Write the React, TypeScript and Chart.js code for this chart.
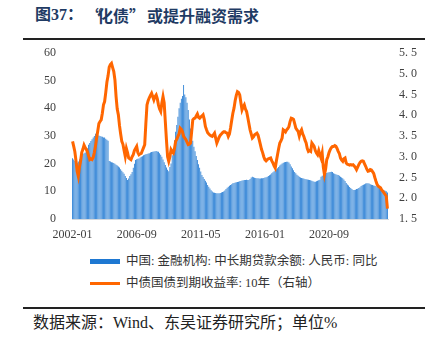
import React, { useEffect, useRef } from "react";
import { Chart, registerables } from "chart.js";

Chart.register(...registerables);

// Monthly categories 2002-01 .. 2024-12
const startYear = 2002;
const yearCount = 23;
const categories: string[] = [];
for (let y = 0; y < yearCount; y++) {
  for (let m = 1; m <= 12; m++) {
    categories.push(`${startYear + y}-${m < 10 ? "0" + m : m}`);
  }
}

const xTickLabels = ["2002-01", "2006-09", "2011-05", "2016-01", "2020-09"];
const leftTicks = [0, 10, 20, 30, 40, 50, 60];
const rightTicks = [1.5, 2.0, 2.5, 3.0, 3.5, 4.0, 4.5, 5.0, 5.5];

// 中国:金融机构:中长期贷款余额:人民币:同比 (%), left axis
const loanGrowth: number[] = [
  // 2002
  22.0, 21.5, 21.0, 20.5, 20.2, 20.8, 21.5, 22.3, 23.0, 23.5, 23.8, 24.0,
  // 2003
  24.5, 25.5, 26.8, 27.5, 28.2, 28.8, 29.5, 30.0, 30.8, 31.0, 30.5, 30.2,
  // 2004
  30.0, 29.8, 29.7, 29.5, 29.5, 29.0, 28.6, 28.3, 21.0, 20.8, 20.5, 20.4,
  // 2005
  20.2, 20.0, 19.6, 19.3, 19.0, 18.6, 18.0, 17.4, 16.9, 16.4, 15.5, 14.8,
  // 2006
  14.1, 14.6, 15.5, 16.2, 17.0, 18.5, 20.0, 21.3, 21.6, 21.8, 21.9, 22.2,
  // 2007
  22.5, 22.7, 23.0, 23.2, 23.4, 23.5, 23.7, 23.8, 24.0, 24.2, 24.3, 24.4,
  // 2008
  24.5, 24.6, 24.4, 24.3, 23.8, 23.2, 22.5, 21.5, 20.5, 19.5, 18.6, 17.8,
  // 2009
  17.3, 18.8, 20.1, 23.0, 25.5, 28.5, 31.5, 34.0, 37.0, 40.0, 42.0, 43.5,
  // 2010
  44.5, 48.4, 45.0, 44.0, 42.0, 39.4, 36.0, 32.7, 30.5, 28.3, 26.1, 24.5,
  // 2011
  22.8, 21.3, 19.8, 18.5, 17.2, 15.9, 15.2, 14.5, 13.8, 13.2, 12.3, 11.7,
  // 2012
  11.0, 10.4, 9.9, 9.6, 9.5, 9.4, 9.3, 9.3, 9.3, 9.4, 9.6, 9.8,
  // 2013
  9.9, 10.3, 10.8, 11.3, 11.7, 12.0, 12.3, 12.6, 12.9, 13.0, 13.2, 13.3,
  // 2014
  13.4, 13.5, 13.6, 13.7, 13.9, 14.0, 14.1, 14.1, 14.2, 14.1, 14.1, 14.5,
  // 2015
  15.0, 15.3, 15.1, 14.9, 14.8, 14.7, 14.7, 14.6, 14.6, 14.7, 14.7, 14.8,
  // 2016
  15.0, 15.1, 15.3, 15.5, 15.8, 16.1, 16.5, 16.9, 17.3, 17.6, 18.0, 18.3,
  // 2017
  18.8, 19.3, 19.7, 20.1, 20.3, 20.5, 20.6, 20.7, 20.7, 20.4, 19.8, 19.0,
  // 2018
  18.3, 17.6, 17.0, 16.5, 16.0, 15.6, 15.3, 15.0, 14.8, 14.7, 14.6, 14.5,
  // 2019
  14.4, 14.3, 14.2, 14.1, 14.0, 13.8, 13.6, 13.5, 13.5, 13.6, 13.8, 14.0,
  // 2020
  14.2, 15.3, 15.6, 15.9, 16.2, 16.5, 16.6, 16.8, 16.9, 17.0, 17.1, 17.0,
  // 2021
  16.5, 16.4, 16.2, 16.0, 15.9, 15.6, 15.3, 15.0, 14.7, 14.3, 13.7, 13.0,
  // 2022
  12.5, 12.1, 11.6, 11.2, 10.8, 10.5, 10.5, 10.6, 10.8, 10.9, 11.2, 11.5,
  // 2023
  11.9, 12.2, 12.4, 12.6, 12.8, 12.9, 12.9, 12.8, 12.6, 12.4, 12.3, 12.1,
  // 2024
  12.0, 11.9, 11.7, 11.5, 11.2, 10.9, 10.6, 10.5, 10.4, 10.2, 10.0, 9.6,
];

// 中债国债到期收益率:10年 (%), right axis
const cgb10y: number[] = [
  // 2002
  3.37, 3.25, 3.12, 2.90, 2.65, 2.53, 2.75, 2.90, 3.10, 3.18, 3.28, 3.22,
  // 2003
  3.18, 3.12, 3.02, 2.93, 2.95, 2.93, 2.98, 3.10, 3.25, 3.45, 3.62, 3.80,
  // 2004
  3.85, 3.89, 4.05, 4.25, 4.33, 4.55, 4.80, 4.95, 5.16, 5.22, 5.25, 5.15,
  // 2005
  5.05, 4.85, 4.45, 4.15, 4.01, 3.75, 3.55, 3.37, 3.30, 3.15, 3.01, 3.20,
  // 2006
  3.10, 2.97, 2.95, 2.93, 3.00, 3.05, 3.15, 3.20, 3.25, 3.10, 3.05, 3.07,
  // 2007
  3.08, 3.15, 3.22, 3.29, 3.80, 4.25, 4.35, 4.42, 4.48, 4.53, 4.45, 4.37,
  // 2008
  4.45, 4.49, 4.40, 4.25, 4.15, 4.09, 4.30, 4.45, 4.30, 3.85, 3.40, 3.00,
  // 2009
  2.89, 3.00, 3.17, 3.12, 3.09, 3.20, 3.37, 3.42, 3.49, 3.55, 3.69, 3.66,
  // 2010
  3.60, 3.49, 3.45, 3.41, 3.35, 3.29, 3.30, 3.33, 3.60, 3.89, 3.92, 3.93,
  // 2011
  3.98, 4.03, 3.95, 3.93, 3.96, 3.98, 4.01, 3.90, 3.73, 3.65, 3.58, 3.55,
  // 2012
  3.52, 3.50, 3.49, 3.53, 3.57, 3.45, 3.33, 3.40, 3.47, 3.52, 3.55, 3.58,
  // 2013
  3.60, 3.60, 3.58, 3.57, 3.49, 3.55, 3.70, 3.88, 4.05, 4.17, 4.35, 4.48,
  // 2014
  4.57, 4.55, 4.49, 4.30, 4.13, 4.20, 4.25, 4.15, 4.09, 3.95, 3.80, 3.65,
  // 2015
  3.55, 3.45, 3.48, 3.53, 3.55, 3.57, 3.52, 3.41, 3.30, 3.18, 3.10, 3.00,
  // 2016
  2.93, 2.90, 2.93, 2.95, 2.96, 2.97, 2.90, 2.85, 2.78, 2.73, 2.90, 3.05,
  // 2017
  3.20, 3.33, 3.38, 3.45, 3.65, 3.63, 3.60, 3.65, 3.68, 3.73, 3.85, 3.93,
  // 2018
  3.92, 3.90, 3.80, 3.69, 3.65, 3.61, 3.50, 3.60, 3.65, 3.55, 3.49, 3.40,
  // 2019
  3.33, 3.20, 3.13, 3.15, 3.13, 3.33, 3.29, 3.25, 3.15, 3.09, 3.05, 3.15,
  // 2020
  3.05, 2.97, 3.09, 2.75, 2.57, 2.70, 2.93, 3.00, 3.10, 3.17, 3.22, 3.25,
  // 2021
  3.25, 3.27, 3.25, 3.20, 3.13, 3.08, 2.97, 2.92, 2.89, 2.95, 2.97, 2.85,
  // 2022
  2.82, 2.81, 2.80, 2.81, 2.80, 2.81, 2.78, 2.74, 2.69, 2.75, 2.81, 2.86,
  // 2023
  2.89, 2.90, 2.89, 2.83, 2.77, 2.70, 2.65, 2.66, 2.69, 2.68, 2.64, 2.60,
  // 2024
  2.50, 2.41, 2.33, 2.29, 2.27, 2.25, 2.20, 2.17, 2.13, 2.09, 2.05, 1.75,
];

const barLabel = "中国: 金融机构: 中长期贷款余额: 人民币: 同比";
const lineLabel = "中债国债到期收益率: 10年（右轴）";

const BAR_COLOR = "#1E78D2";
const LINE_COLOR = "#FF6600";
const AXIS_FONT = { family: "'Liberation Serif', 'Times New Roman', serif", size: 12 };
const MIX_FONT = "'Liberation Serif', 'Noto Sans CJK SC', serif";
const TITLE_COLOR = "#1F3B64";

// Fixed plot-area box inside the canvas (canvas is placed at page top 40)
const CANVAS_TOP = 40;
const CANVAS_H = 200;
const AREA_TOP = 13; // page y 53
const AREA_BOTTOM = 179; // page y 219

export default function App() {
  const canvasRef = useRef<HTMLCanvasElement | null>(null);

  useEffect(() => {
    document.body.style.margin = "0";
    const canvas = canvasRef.current;
    if (!canvas) return;
    const noPad = (scale: any) => {
      scale.paddingTop = 0;
      scale.paddingBottom = 0;
      scale.paddingLeft = 0;
      scale.paddingRight = 0;
    };
    const chart = new Chart(canvas, {
      data: {
        labels: categories,
        datasets: [
          {
            type: "line",
            label: lineLabel,
            data: cgb10y,
            yAxisID: "y1",
            borderColor: LINE_COLOR,
            borderWidth: 3,
            pointRadius: 0,
            tension: 0,
            order: 0,
          },
          {
            type: "bar",
            label: barLabel,
            data: loanGrowth,
            yAxisID: "y",
            backgroundColor: BAR_COLOR,
            barPercentage: 0.72,
            categoryPercentage: 1,
            order: 1,
          },
        ],
      },
      options: {
        responsive: false,
        maintainAspectRatio: false,
        animation: false,
        layout: { padding: { top: AREA_TOP, bottom: CANVAS_H - AREA_BOTTOM - 21, left: 0, right: 0 } },
        plugins: { legend: { display: false }, tooltip: { enabled: false }, title: { display: false } },
        scales: {
          x: {
            type: "category",
            offset: true,
            grid: { display: false, drawTicks: false },
            border: { display: true, color: "#d4d9de", width: 1 },
            ticks: {
              autoSkip: false,
              maxRotation: 0,
              minRotation: 0,
              padding: 9,
              color: "#404040",
              font: AXIS_FONT,
              callback: function (_v: any, index: number) {
                const lab = categories[index];
                return xTickLabels.includes(lab) ? lab : "";
              },
            },
            afterFit: (scale: any) => {
              scale.height = 21;
              noPad(scale);
            },
          },
          y: {
            position: "left",
            min: leftTicks[0],
            max: leftTicks[leftTicks.length - 1],
            grid: { display: false, drawTicks: false },
            border: { display: false },
            afterBuildTicks: (scale: any) => {
              scale.ticks = leftTicks.map((v) => ({ value: v }));
            },
            ticks: {
              padding: 16,
              color: "#404040",
              font: AXIS_FONT,
              callback: (v: any) => String(v),
            },
            afterFit: (scale: any) => {
              scale.width = 72;
              noPad(scale);
            },
          },
          y1: {
            position: "right",
            min: rightTicks[0],
            max: rightTicks[rightTicks.length - 1],
            grid: { display: false, drawTicks: false },
            border: { display: false },
            afterBuildTicks: (scale: any) => {
              scale.ticks = rightTicks.map((v) => ({ value: v }));
            },
            ticks: {
              padding: 11,
              color: "#404040",
              font: AXIS_FONT,
              callback: (v: any) => Number(v).toFixed(1).replace(".", ". "),
            },
            afterFit: (scale: any) => {
              scale.width = 46;
              noPad(scale);
            },
          },
        },
      },
    } as any);
    return () => chart.destroy();
  }, []);

  const abs = (o: React.CSSProperties): React.CSSProperties => ({ position: "absolute", ...o });
  const titleStyle = (left: number, family: string): React.CSSProperties =>
    abs({ left, top: 4, fontFamily: family, fontWeight: 700, fontSize: 16, lineHeight: "22px", color: TITLE_COLOR, whiteSpace: "nowrap" });
  const cjk = "'Noto Sans CJK SC', sans-serif";

  return (
    <div style={{ position: "relative", width: 434, height: 348, background: "#fff", overflow: "hidden" }}>
      {/* Title */}
      <div style={titleStyle(35, MIX_FONT)}>图37：</div>
      <div style={titleStyle(86, cjk)}>“</div>
      <div style={titleStyle(97, cjk)}>化债</div>
      <div style={titleStyle(129, cjk)}>”</div>
      <div style={titleStyle(147, cjk)}>或提升融资需求</div>
      <div style={abs({ left: 23, top: 38, width: 402, height: 2, background: "#222" })} />

      {/* Chart */}
      <div style={abs({ left: 0, top: CANVAS_TOP, width: 434, height: CANVAS_H })}>
        <canvas ref={canvasRef} width={434} height={CANVAS_H} style={{ display: "block", width: 434, height: CANVAS_H }} />
      </div>

      {/* Legend */}
      <div style={abs({ left: 90, top: 259, width: 30, height: 5, background: BAR_COLOR })} />
      <div style={abs({ left: 126, top: 252, fontFamily: MIX_FONT, fontSize: 12.5, lineHeight: "18px", color: "#333", whiteSpace: "nowrap" })}>{barLabel}</div>
      <div style={abs({ left: 90, top: 282, width: 30, height: 3, background: LINE_COLOR })} />
      <div style={abs({ left: 126, top: 274, fontFamily: MIX_FONT, fontSize: 12.5, lineHeight: "18px", color: "#333", whiteSpace: "nowrap" })}>{lineLabel}</div>

      {/* Footer */}
      <div style={abs({ left: 23, top: 307, width: 402, height: 2, background: "#222" })} />
      <div style={abs({ left: 33, top: 312, fontFamily: MIX_FONT, fontSize: 16, lineHeight: "22px", color: "#222", whiteSpace: "nowrap" })}>数据来源：Wind、东吴证券研究所；单位%</div>
    </div>
  );
}
